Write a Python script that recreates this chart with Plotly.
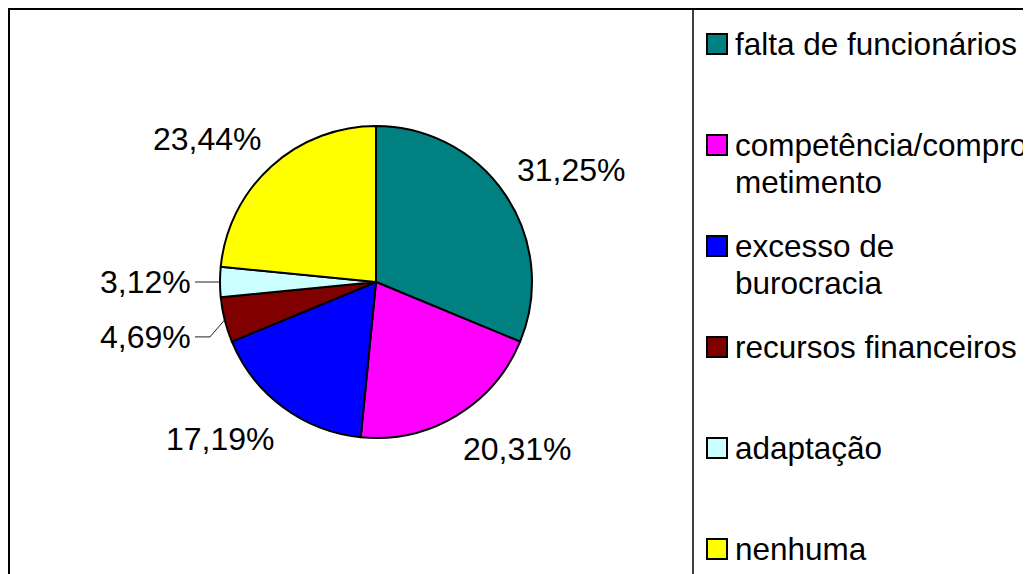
import math
import plotly.graph_objects as go

# ---- data ----
categories = [
    "falta de funcionários",
    "competência/comprometimento",
    "excesso de burocracia",
    "recursos financeiros",
    "adaptação",
    "nenhuma",
]
values = [31.25, 20.31, 17.19, 4.69, 3.12, 23.44]
legend_lines = [
    ["falta de funcionários"],
    ["competência/compro", "metimento"],
    ["excesso de", "burocracia"],
    ["recursos financeiros"],
    ["adaptação"],
    ["nenhuma"],
]
colors = ["#008080", "#FF00FF", "#0000FF", "#800000", "#CCFFFF", "#FFFF00"]

# ---- style / layout ----
W, H = 1031, 574
OFF = 8  # page body margin
FONT = "Liberation Sans, Arial, sans-serif"
FS = 32
LFS = 31.5

def px(X):
    return (X - OFF) / W

def py(Y):
    return 1 - (Y - OFF) / H

# pie geometry in screen pixels
cx, cy, r = 376, 282, 156
gap_x, gap_y = 12, 16   # gap between pie edge and label anchor
small_share = 5.0       # slices below this get leader lines
leader_extra_dy = [0, 0, 0, 17, 0, 0]

fig = go.Figure()
fig.add_trace(go.Pie(
    labels=categories,
    values=values,
    sort=False,
    direction="clockwise",
    rotation=0,
    marker=dict(colors=colors, line=dict(color="black", width=2)),
    textinfo="none",
    hoverinfo="none",
    showlegend=False,
    domain=dict(x=[px(cx - r), px(cx + r)], y=[py(cy + r), py(cy - r)]),
))

shapes = [
    dict(type="rect", xref="paper", yref="paper",
         x0=px(9), x1=1.05, y0=-0.05, y1=py(9),
         line=dict(color="black", width=2), fillcolor="rgba(0,0,0,0)"),
    dict(type="line", xref="paper", yref="paper",
         x0=px(693), x1=px(693), y0=-0.05, y1=py(9),
         line=dict(color="black", width=1.5)),
]
annotations = []

# ---- slice labels, positioned from the data ----
total = sum(values)
cum = 0.0
for i, v in enumerate(values):
    mid = (cum + v / 2) / total * 2 * math.pi
    cum += v
    s, c = math.sin(mid), math.cos(mid)
    txt = f"{v:.2f}%".replace(".", ",")
    ex, ey = cx + r * s, cy - r * c
    if v < small_share:
        side = -1 if s < 0 else 1
        ly = ey + leader_extra_dy[i]
        elbow_x = cx + side * (r + 10)
        lx = cx + side * (r + 28)
        start_x = cx + side * (r + 25)
        shapes.append(dict(type="line", xref="paper", yref="paper",
                           x0=px(start_x), x1=px(elbow_x), y0=py(ly), y1=py(ly),
                           line=dict(color="#222222", width=1)))
        shapes.append(dict(type="line", xref="paper", yref="paper",
                           x0=px(elbow_x), x1=px(ex), y0=py(ly), y1=py(ey),
                           line=dict(color="#222222", width=1)))
        annotations.append(dict(
            xref="paper", yref="paper", x=px(lx), y=py(ly),
            xanchor="right" if side < 0 else "left", yanchor="middle",
            text=txt, showarrow=False, borderpad=0,
            font=dict(family=FONT, size=FS, color="black")))
    else:
        ax, ay = cx + (r + gap_x) * s, cy - (r + gap_y) * c
        annotations.append(dict(
            xref="paper", yref="paper", x=px(ax), y=py(ay),
            xanchor="left" if s >= 0 else "right",
            yanchor="bottom" if c > 0 else "top",
            yshift=-3 if c > 0 else 0,
            text=txt, showarrow=False, borderpad=0,
            font=dict(family=FONT, size=FS, color="black")))

# ---- manual legend (evenly spaced entries) ----
first_c, last_c = 44, 549
n = len(categories)
step = (last_c - first_c) / (n - 1)
sq = 20
for i, (lines, col) in enumerate(zip(legend_lines, colors)):
    yc = first_c + i * step
    shapes.append(dict(
        type="rect", xref="paper", yref="paper",
        x0=px(707), x1=px(707 + sq),
        y0=py(yc + sq / 2), y1=py(yc - sq / 2),
        line=dict(color="black", width=2), fillcolor=col,
    ))
    for j, t in enumerate(lines):
        annotations.append(dict(
            xref="paper", yref="paper",
            x=px(734), y=py(yc + j * 37),
            xanchor="left", yanchor="middle", borderpad=0,
            text=t, showarrow=False,
            font=dict(family=FONT, size=LFS, color="black"),
        ))

fig.update_layout(
    width=W, height=H,
    margin=dict(l=0, r=0, t=0, b=0),
    paper_bgcolor="white",
    plot_bgcolor="white",
    separators=",.",
    font=dict(family=FONT, size=FS, color="black"),
    shapes=shapes,
    annotations=annotations,
)

fig.write_html("out.html")
